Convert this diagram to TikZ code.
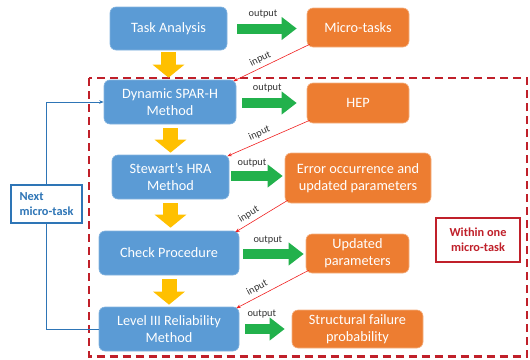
\documentclass[tikz,border=0pt]{standalone}
\usepackage{fontspec}
\setmainfont{Carlito}
\usetikzlibrary{arrows.meta,calc}
\definecolor{bbox}{HTML}{5B9BD5}
\definecolor{obox}{HTML}{ED7D31}
\definecolor{garrow}{HTML}{22B14C}
\definecolor{yarrow}{HTML}{FFC000}
\definecolor{dred}{HTML}{C0202A}
\definecolor{lblue}{HTML}{2E75B6}
\definecolor{ired}{HTML}{F02020}
\begin{document}
\begin{tikzpicture}[x=1pt,y=-1pt,
  bluebox/.style={fill=bbox, draw=bbox!75!white, line width=0.6pt, rounded corners=6pt, text=white,
    font=\fontsize{14.3}{17}\selectfont, align=center, inner sep=0pt},
  orangebox/.style={fill=obox, draw=obox!60!white, line width=0.6pt, rounded corners=6pt, text=white,
    font=\fontsize{14.3}{17}\selectfont, align=center, inner sep=0pt},
  greenarrow/.style={draw=garrow, line width=10pt, -{Triangle[width=22pt,length=15pt]}},
  yellowarrow/.style={draw=yarrow, line width=15pt, -{Triangle[width=31pt,length=13pt]}},
  inputline/.style={draw=ired, line width=0.6pt, -{Stealth[length=4.5pt,width=3.5pt]}},
  smalllabel/.style={font=\fontsize{10.3}{12}\selectfont, text=black!80, inner sep=0.5pt},
  notebox/.style={fill=white, line width=2pt, font=\bfseries\fontsize{12.3}{15}\selectfont, inner sep=0pt}
]
\useasboundingbox (0,0) rectangle (530,359);

% dashed region
\draw[dred, line width=2.3pt, dash pattern=on 8pt off 5pt] (89,78) rectangle (527,356.5);

% blue method boxes
\node[bluebox, minimum width=117pt, minimum height=43pt] (ta) at (168.5,28.5) {Task Analysis};
\node[bluebox, minimum width=132pt, minimum height=44pt] (dyn) at (170,102) {Dynamic SPAR-H\\Method};
\node[bluebox, minimum width=117pt, minimum height=44pt] (st) at (170.5,177) {Stewart’s HRA\\Method};
\node[bluebox, minimum width=140pt, minimum height=44pt] (ch) at (169,253) {Check Procedure};
\node[bluebox, minimum width=140pt, minimum height=44pt] (lv) at (169,329) {Level III Reliability\\Method};

% orange result boxes
\node[orangebox, minimum width=102pt, minimum height=39pt] (mt) at (358,27.5) {Micro-tasks};
\node[orangebox, minimum width=102pt, minimum height=40pt] (hep) at (358,103) {HEP};
\node[orangebox, minimum width=146pt, minimum height=50pt] (err) at (358,178) {Error occurrence and\\updated parameters};
\node[orangebox, minimum width=103pt, minimum height=39pt] (up) at (357.5,253.5) {Updated\\parameters};
\node[orangebox, minimum width=131pt, minimum height=38pt] (sf) at (357.5,329) {Structural failure\\probability};

% note boxes
\node[notebox, draw=dred, text=dred, align=center, minimum width=84pt, minimum height=44pt] (within) at (478,240) {Within one\\micro-task};
\node[notebox, draw=lblue, text=lblue, align=left, minimum width=71pt, minimum height=38pt] (next) at (46.5,204) {Next\\micro-task};

% yellow flow arrows
\draw[yellowarrow, shorten <=2pt, shorten >=2pt] (ta.south) -- (ta.south |- dyn.north);
\draw[yellowarrow, shorten <=4pt, shorten >=2pt] (st.north |- dyn.south) -- (st.north);
\draw[yellowarrow, shorten <=4pt, shorten >=3pt] (st.south) -- (st.south |- ch.north);
\draw[yellowarrow, shorten <=4pt, shorten >=2pt] (ch.south) -- (lv.north);

% green output arrows
\draw[greenarrow, shorten <=10pt, shorten >=10pt] (ta.east) -- (ta.east -| mt.west)
  node[smalllabel, pos=0.45, yshift=14pt] {output};
\draw[greenarrow, shorten <=6pt, shorten >=10pt] ($(dyn.east)+(0,1)$) -- ($(dyn.east -| hep.west)+(0,1)$)
  node[smalllabel, pos=0.44, yshift=15pt] {output};
\draw[greenarrow, shorten <=2pt, shorten >=2pt] ($(st.east)+(0,-1)$) -- ($(st.east -| err.west)+(0,-1)$)
  node[smalllabel, pos=0.41, yshift=13pt] {output};
\draw[greenarrow, shorten <=4pt, shorten >=2pt] ($(ch.east)+(0,1)$) -- ($(ch.east -| up.west)+(0,1)$)
  node[smalllabel, pos=0.43, yshift=14pt] {output};
\draw[greenarrow, shorten <=6pt, shorten >=7pt] (lv.east) -- (lv.east -| sf.west)
  node[smalllabel, pos=0.43, yshift=15pt] {output};

% red input lines
\draw[inputline] ($(mt.south west)+(3,-3)$) -- ($(dyn.north east)+(-3,1.5)$)
  node[smalllabel, pos=0.6, sloped, above=3pt] {input};
\draw[inputline] ($(hep.south west)+(3,-3)$) -- ($(st.north east)+(-2,1.5)$)
  node[smalllabel, pos=0.57, sloped, above=3pt] {input};
\draw[inputline] ($(err.south west)+(3,-3)$) -- ($(ch.north east)+(-4,1.5)$)
  node[smalllabel, pos=0.66, sloped, above=3pt] {input};
\draw[inputline] ($(up.south west)+(3,-3)$) -- ($(lv.north east)+(-3,1.5)$)
  node[smalllabel, pos=0.66, sloped, above=3pt] {input};

% loop to next micro-task
\draw[lblue, line width=0.9pt] (lv.west) -| (next.south);
\draw[lblue, line width=0.9pt, -{Stealth[length=4.5pt,width=3.5pt]}] (next.north) |- (dyn.west);
\end{tikzpicture}
\end{document}
